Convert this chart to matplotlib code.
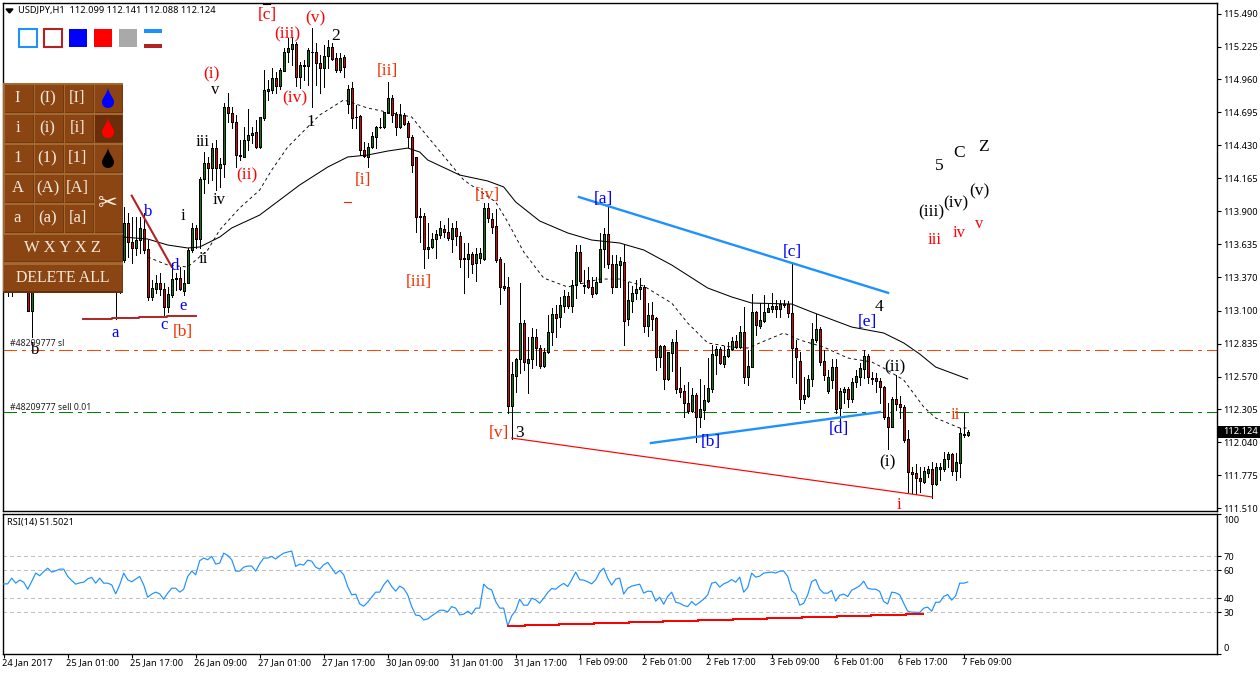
import matplotlib
matplotlib.use("Agg")
import matplotlib.pyplot as plt
from matplotlib.patches import Rectangle, PathPatch
from matplotlib.path import Path
from matplotlib.transforms import ScaledTranslation

# candles, one per H1 bar; the first 30 sit behind the button panel so they are rough
opens = [113.60,113.48,113.42,113.56,113.40,113.50,113.38,113.10,113.55,113.75,
	113.68,113.85,113.95,113.80,113.88,113.96,113.90,113.70,113.58,113.48,
	113.60,113.66,113.78,113.66,113.50,113.70,113.52,113.50,113.36,113.30,
	113.507,113.802,113.655,113.601,113.668,113.754,113.593,113.207,113.271,113.325,
	113.271,113.132,113.226,113.352,113.360,113.261,113.325,113.588,113.762,113.674,
	114.156,114.285,114.245,114.406,114.245,114.280,114.735,114.692,114.617,114.349,
	114.339,114.473,114.513,114.534,114.419,114.647,114.870,114.875,114.969,114.907,
	115.030,115.178,115.205,115.245,114.977,115.068,115.068,115.183,115.178,115.089,
	115.055,115.148,115.218,115.130,115.036,115.138,114.762,114.888,114.660,114.666,
	114.392,114.339,114.414,114.494,114.575,114.575,114.687,114.808,114.679,114.580,
	114.674,114.612,114.494,114.333,113.861,113.861,113.593,113.609,113.674,113.709,
	113.754,113.735,113.674,113.762,113.700,113.521,113.518,113.556,113.481,113.521,
	113.518,113.923,113.837,113.781,113.513,113.298,113.287,112.333,112.574,112.708,
	112.998,112.681,112.708,112.885,112.797,112.655,112.770,112.931,113.073,113.046,
	113.137,113.218,113.137,113.304,113.569,113.306,113.346,113.293,113.239,113.333,
	113.593,113.717,113.473,113.293,113.467,113.491,113.030,113.180,113.239,113.271,
	113.293,112.979,113.065,113.041,112.724,112.815,112.547,112.762,112.845,112.475,
	112.456,112.354,112.295,112.421,112.247,112.301,112.376,112.472,112.746,112.789,
	112.671,112.735,112.789,112.858,112.805,112.925,112.563,112.649,113.086,112.976,
	113.019,113.086,113.113,113.137,113.113,113.153,113.153,113.078,112.802,112.695,
	112.391,112.416,112.547,112.864,112.949,112.697,112.456,112.542,112.644,112.314,
	112.448,112.467,112.386,112.528,112.569,112.628,112.735,112.558,112.555,112.536,
	112.488,112.241,112.166,112.386,112.349,112.322,112.064,111.804,111.791,111.756,
	111.724,111.796,111.823,111.705,111.823,111.823,111.904,111.946,111.812,111.871,
	112.097,112.099]
highs = [113.72,113.60,113.66,113.68,113.58,113.60,113.45,113.60,113.85,113.90,
	113.95,114.05,114.02,113.98,114.05,114.08,113.95,113.80,113.70,113.68,
	113.75,113.85,113.90,113.75,113.78,113.80,113.62,113.60,113.50,113.60,
	113.936,113.883,113.856,113.856,113.856,113.883,113.668,113.346,113.387,113.400,
	113.320,113.293,113.480,113.400,113.454,113.427,113.601,113.802,113.789,114.178,
	114.379,114.339,114.446,114.473,114.325,114.768,114.853,114.741,114.674,114.473,
	114.580,114.719,114.580,114.634,114.660,115.036,114.955,115.049,115.022,115.049,
	115.210,115.291,115.304,115.264,115.103,115.116,115.210,115.371,115.250,115.157,
	115.237,115.277,115.250,115.170,115.170,115.157,114.915,114.942,114.754,114.674,
	114.459,114.446,114.540,114.585,114.647,114.701,114.942,114.835,114.701,114.762,
	114.693,114.628,114.513,114.339,113.923,113.883,113.802,113.722,113.749,113.824,
	113.789,113.843,113.802,113.824,113.735,113.641,113.641,113.574,113.601,113.601,
	113.963,113.963,113.883,113.915,113.534,113.481,113.368,112.689,112.716,113.325,
	113.025,112.891,112.958,112.950,112.824,112.797,113.065,113.119,113.145,113.212,
	113.266,113.253,113.346,113.628,113.628,113.427,113.454,113.373,113.373,113.727,
	113.762,113.936,113.548,113.548,113.534,113.633,113.333,113.298,113.346,113.360,
	113.306,113.164,113.172,113.052,112.824,112.824,112.770,112.869,112.944,112.649,
	112.502,112.529,112.475,112.435,112.547,112.502,112.716,112.824,112.815,112.810,
	112.818,112.850,112.891,112.904,112.976,113.132,112.783,113.234,113.097,113.159,
	113.226,113.159,113.245,113.186,113.186,113.186,113.180,113.480,112.864,112.770,
	112.569,112.582,112.998,113.073,112.971,112.783,112.622,112.708,112.708,112.475,
	112.488,112.488,112.555,112.622,112.676,112.783,112.751,112.609,112.601,112.555,
	112.493,112.354,112.408,112.582,112.413,112.341,112.139,111.839,111.863,111.844,
	111.844,111.850,111.879,111.871,111.871,111.965,111.965,111.952,111.952,112.153,
	112.279,112.141]
lows = [113.38,113.22,113.22,113.32,113.30,113.30,113.10,112.89,113.45,113.58,
	113.60,113.72,113.70,113.68,113.78,113.80,113.62,113.50,113.42,113.40,
	113.50,113.55,113.58,113.40,113.44,113.45,113.40,113.28,113.03,113.24,
	113.494,113.534,113.480,113.547,113.561,113.561,113.185,113.185,113.239,113.226,
	113.065,113.092,113.212,113.266,113.266,113.226,113.320,113.574,113.601,113.601,
	114.044,114.124,114.151,114.070,114.097,114.178,114.620,114.567,114.258,114.312,
	114.339,114.392,114.446,114.406,114.406,114.634,114.794,114.848,114.848,114.880,
	115.030,115.103,115.076,114.907,114.888,114.955,114.915,114.735,114.915,114.853,
	114.896,115.049,115.116,115.022,115.022,114.977,114.687,114.567,114.567,114.352,
	114.339,114.258,114.406,114.406,114.567,114.567,114.687,114.620,114.513,114.567,
	114.593,114.419,114.218,113.730,113.655,113.440,113.521,113.601,113.521,113.682,
	113.690,113.668,113.574,113.628,113.454,113.245,113.373,113.406,113.341,113.481,
	113.507,113.816,113.722,113.494,113.153,113.266,112.279,112.065,112.448,112.601,
	112.622,112.435,112.636,112.663,112.636,112.644,112.757,112.824,112.891,112.971,
	113.092,113.119,113.092,113.199,113.325,113.239,113.279,113.212,113.234,113.333,
	113.448,113.440,113.245,113.293,113.293,112.824,112.984,113.092,113.191,113.191,
	112.931,112.896,112.944,112.622,112.649,112.467,112.542,112.617,112.435,112.408,
	112.242,112.274,112.287,112.046,112.167,112.226,112.368,112.448,112.590,112.671,
	112.649,112.730,112.783,112.797,112.797,112.515,112.502,112.644,112.904,112.958,
	113.011,113.086,113.092,113.046,113.051,113.132,113.051,112.569,112.515,112.306,
	112.354,112.408,112.493,112.850,112.662,112.542,112.434,112.475,112.274,112.220,
	112.354,112.327,112.367,112.483,112.502,112.555,112.520,112.510,112.448,112.354,
	112.225,111.984,112.161,112.300,112.233,112.046,111.643,111.630,111.625,111.643,
	111.716,111.764,111.590,111.697,111.737,111.812,111.844,111.777,111.737,111.764,
	112.080,112.088]
closes = [113.48,113.42,113.56,113.40,113.50,113.38,113.10,113.55,113.75,113.68,
	113.85,113.95,113.80,113.88,113.96,113.90,113.70,113.58,113.48,113.60,
	113.66,113.78,113.66,113.50,113.70,113.52,113.50,113.36,113.30,113.50,
	113.802,113.655,113.601,113.668,113.762,113.588,113.207,113.279,113.320,113.271,
	113.132,113.234,113.352,113.360,113.271,113.325,113.588,113.762,113.674,114.156,
	114.285,114.245,114.406,114.245,114.280,114.735,114.687,114.617,114.349,114.344,
	114.473,114.513,114.526,114.419,114.655,114.875,114.880,114.969,114.907,115.036,
	115.178,115.210,115.245,114.977,115.076,115.076,115.197,115.178,115.089,115.049,
	115.148,115.218,115.122,115.036,115.130,115.063,114.880,114.647,114.655,114.392,
	114.344,114.419,114.505,114.580,114.580,114.695,114.808,114.674,114.580,114.674,
	114.601,114.494,114.272,113.856,113.856,113.593,113.609,113.674,113.717,113.762,
	113.735,113.682,113.762,113.700,113.513,113.513,113.556,113.475,113.556,113.561,
	113.923,113.843,113.776,113.507,113.293,113.279,112.333,112.590,112.708,112.998,
	112.689,112.708,112.885,112.797,112.655,112.770,112.931,113.073,113.041,113.145,
	113.218,113.137,113.304,113.569,113.341,113.301,113.287,113.234,113.333,113.593,
	113.717,113.473,113.293,113.473,113.499,113.019,113.186,113.245,113.271,113.293,
	112.979,113.065,113.035,112.724,112.815,112.547,112.770,112.845,112.472,112.445,
	112.354,112.295,112.421,112.247,112.306,112.381,112.478,112.751,112.789,112.676,
	112.735,112.789,112.858,112.805,112.925,112.563,112.655,113.086,112.984,113.025,
	113.086,113.119,113.137,113.113,113.153,113.148,113.078,112.802,112.729,112.386,
	112.421,112.550,112.869,112.949,112.689,112.582,112.569,112.644,112.306,112.453,
	112.467,112.386,112.528,112.574,112.636,112.735,112.563,112.553,112.536,112.488,
	112.241,112.166,112.386,112.349,112.322,112.059,111.804,111.786,111.751,111.729,
	111.810,111.826,111.702,111.839,111.839,111.904,111.946,111.812,111.882,112.113,
	112.105,112.124]
rsi = [50.2,50.2,54.3,50.7,52.9,51.4,46.4,51.9,57.9,56.0,59.0,61.4,58.6,59.5,60.7,60.7,55.5,52.6,50.0,50.9,
	51.4,53.8,54.8,50.7,54.3,50.7,50.7,49.5,43.1,49.5,
	57.9,53.1,51.7,53.6,55.5,49.5,40.7,42.9,44.3,43.1,
	39.3,43.6,47.1,47.1,44.3,46.4,55.5,59.3,56.7,66.7,
	68.6,67.4,69.8,64.3,65.0,72.1,70.5,67.4,59.3,59.3,
	62.1,62.9,62.9,59.3,64.5,68.6,68.6,69.8,67.9,70.2,
	72.1,72.9,73.6,62.6,64.3,63.6,67.1,66.4,62.1,60.7,
	63.8,65.5,61.4,57.4,59.8,56.7,48.3,42.4,42.9,35.9,
	34.3,37.1,40.7,44.3,44.3,49.5,52.9,48.3,45.0,48.6,
	46.9,42.4,34.0,27.9,27.6,24.5,25.2,27.4,29.3,31.4,
	31.4,30.2,34.0,32.9,28.1,28.6,30.7,28.6,32.9,32.9,
	50.0,47.1,45.9,37.6,32.9,32.9,20.2,27.4,31.2,39.3,
	35.0,35.0,40.0,38.8,36.4,40.0,44.0,46.9,46.4,48.8,
	50.5,48.3,53.1,58.6,53.1,52.9,51.7,50.2,53.1,58.6,
	61.4,54.3,49.3,53.6,54.3,42.9,47.1,48.6,49.3,50.0,
	43.6,45.0,44.8,37.9,40.7,35.7,41.2,44.3,37.1,36.4,
	34.8,34.0,37.6,35.0,37.1,39.3,42.4,50.7,51.4,47.9,
	50.2,51.4,53.3,51.4,55.0,44.3,47.6,57.9,55.0,55.7,
	57.9,58.3,58.6,57.9,59.3,59.3,55.5,45.5,42.9,35.0,
	36.4,42.4,51.9,53.3,46.4,43.6,43.6,45.5,37.9,42.1,
	42.9,41.2,45.7,47.1,48.8,52.1,47.1,46.4,46.4,44.8,
	37.6,35.9,44.3,43.8,42.4,36.4,30.7,30.0,30.0,29.8,
	32.9,33.6,30.7,37.1,37.1,41.2,42.6,38.6,41.7,50.7,
	50.7,51.5]

# moving averages, read at the bends of each line
ma_slow_bars = [30,36,41,46,49,54,57,64,69,74,81,86,91,96,101,104,106,114,121,125,128,134,141,147,154,160,167,176,182,187,197,202,212,220,225,229,233,241]
ma_slow = [113.692,113.676,113.628,113.604,113.612,113.692,113.765,113.869,113.990,114.111,114.255,114.336,114.352,114.384,114.408,114.376,114.312,114.191,114.143,114.095,113.974,113.821,113.725,113.668,113.644,113.588,113.467,113.282,113.210,113.161,113.153,113.089,112.968,112.920,112.840,112.751,112.646,112.550]
ma_fast_bars = [36,41,46,51,54,59,64,67,71,74,79,85,91,97,102,104,115,123,126,130,135,141,149,154,160,167,171,176,182,186,189,195,199,205,211,217,220,225,230,233,239,241]
ma_fast = [113.531,113.467,113.451,113.588,113.749,113.926,114.070,114.231,114.416,114.513,114.674,114.795,114.730,114.690,114.658,114.577,114.151,113.974,113.813,113.572,113.362,113.290,113.354,113.354,113.298,113.161,113.000,112.840,112.807,112.799,112.840,112.920,112.864,112.807,112.719,112.687,112.638,112.542,112.325,112.236,112.156,112.156]

# drawn lines on the price chart
blue_upper_bars = [143.8,221.1]
blue_upper = [114.014,113.243]
blue_lower_bars = [161.8,219.1]
blue_lower = [112.035,112.284]
red_lower_bars = [127,232.1]
red_lower = [112.075,111.601]
brown_diag_bars = [32,42]
brown_diag = [114.025,113.453]
brown_base_bars = [19.8,27.1,33.8,40.8,48.1]
brown_base = [113.033,113.043,113.051,113.059,113.059]
sl_level = 112.781
sell_level = 112.282
last_price = 112.124
rsi_line_bars = [126,130.3,138.8,147.6,156.3,164.8,173.6,182.3,190.8,199.6,208.3,216.8,225.6,229.7]
rsi_line = [20.5,21.2,21.9,22.6,23.3,24.0,24.8,25.5,26.2,26.9,27.6,28.3,29.0,29.0]

price_ticks = [115.490,115.225,114.960,114.695,114.430,114.165,113.900,113.635,113.370,113.100,112.835,112.570,112.305,112.040,111.775,111.510]
rsi_ticks = [100,70,60,40,30,0]
rsi_grid = [70,60,40,30]
date_labels = ["24 Jan 2017","25 Jan 01:00","25 Jan 17:00","26 Jan 09:00","27 Jan 01:00","27 Jan 17:00","30 Jan 09:00","31 Jan 01:00",
	"31 Jan 17:00","1 Feb 09:00","2 Feb 01:00","2 Feb 17:00","3 Feb 09:00","6 Feb 01:00","6 Feb 17:00","7 Feb 09:00"]

W, H = 1260, 675
UI_FONT = "Noto Sans"
UI_SIZE = 6.7
SERIF = "Liberation Serif"
RED = "#FF0000"
ORANGE = "#F53000"
BLUE = "#0000FF"
BLACK = "#000000"
DODGER = "#1E90FF"
FIREBRICK = "#B22222"

# wave labels, placed on the window: text, x, y, colour, size
wave_labels = [
	("[c]",267,15,RED,12.5),("(iii)",287,34,RED,12.5),("(v)",315,18,RED,12.5),("(i)",211,74,RED,12.5),
	("(ii)",247,175,RED,12.5),("(iv)",295,98,RED,12.5),("[ii]",387,71,ORANGE,12.5),("[i]",363,180,ORANGE,12.5),
	("[iii]",419,282,ORANGE,12.5),("[iv]",487,195,ORANGE,12.5),("[v]",499,433,ORANGE,12.5),("[b]",183,332,ORANGE,12.5),
	("iii",935,240,RED,12),("iv",959,233,RED,12),("v",979,224,RED,12),("ii",955,415,ORANGE,12),("i",899,505,RED,12),
	("v",215,90,BLACK,12),("iii",203,142,BLACK,12),("iv",219,200,BLACK,12),("i",183,216,BLACK,12),("ii",203,259,BLACK,12),
	("1",311,122,BLACK,12),("2",336,36,BLACK,12.5),("3",519,433,BLACK,12.5),("4",879,307,BLACK,12.5),("5",939,166,BLACK,12.5),
	("C",959,153,BLACK,12.5),("Z",983,147,BLACK,12.5),("(iii)",931,212,BLACK,12.5),("(iv)",956,203,BLACK,12.5),
	("(v)",979,191,BLACK,12.5),("(ii)",895,367,BLACK,12.5),("(i)",887,462,BLACK,12.5),("b",35,350,BLACK,12),
	("b",148,212,BLUE,12),("d",175,266,BLUE,12),("e",183,306,BLUE,12),("c",164,325,BLUE,12),("a",115,333,BLUE,12),
	("[a]",603,199,BLUE,12.5),("[c]",792,252,BLUE,12.5),("[e]",867,322,BLUE,12.5),("[d]",839,429,BLUE,12.5),("[b]",711,442,BLUE,12.5),
]
button_text = [["I","(I)","[I]"],["i","(i)","[i]"],["1","(1)","[1]"],["A","(A)","[A]"],["a","(a)","[a]"]]
drop_colors = ["#0000FF","#FF0000","#000000"]


def axes_px(fig, left, top, right, bottom):
	return fig.add_axes([left / W, 1 - bottom / H, (right - left) / W, (bottom - top) / H])


def nudge(label, fig, dx, dy):
	# move a tick label by some pixels, dy up
	label.set_transform(label.get_transform() + ScaledTranslation(dx / 100, dy / 100, fig.dpi_scale_trans))


def drop(ax, cx, cy, color):
	verts = [(cx, cy - 11), (cx - 1, cy - 5), (cx - 6, cy - 1), (cx - 6, cy + 3),
		(cx - 6, cy + 11), (cx + 6, cy + 11), (cx + 6, cy + 3),
		(cx + 6, cy - 1), (cx + 1, cy - 5), (cx, cy - 11)]
	codes = [Path.MOVETO] + [Path.CURVE4] * 9
	ax.add_patch(PathPatch(Path(verts, codes), facecolor=color, edgecolor="none", zorder=5))


def button(ax, x0, y0, x1, y1, face="#8B4513"):
	ax.add_patch(Rectangle((x0, y0), x1 - x0, y1 - y0, facecolor="#6E3A12", edgecolor="none", zorder=3))
	ax.add_patch(Rectangle((x0, y0), x1 - x0 - 1, y1 - y0 - 1, facecolor=face, edgecolor="none", zorder=4))


def draw_panel(ov):
	ov.add_patch(Rectangle((3, 83), 120, 210, facecolor="#A5692F", edgecolor="none", zorder=2))
	xs = [4, 34, 64, 94]
	ys = [84, 114, 144, 174, 204]
	for r, y in enumerate(ys):
		for c, x in enumerate(xs[:3]):
			button(ov, x + 1, y + 1, x + 30, y + 29)
			ov.text(x + 13.5, y + 14, button_text[r][c], color="#F5EBDC", family=SERIF, fontsize=12,
				ha="center", va="center", zorder=6)
	for r, y in enumerate(ys[:3]):
		button(ov, 95, y + 1, 123, y + 29, face="#6B2E0A" if r == 1 else "#8B4513")
		drop(ov, 108, y + 15, drop_colors[r])
	button(ov, 95, 175, 123, 233)
	ov.text(108, 203, "\u2702", color="#F5EBDC", family="DejaVu Sans", fontsize=17, ha="center", va="center", zorder=6)
	button(ov, 4, 235, 123, 262)
	ov.text(63, 248, "W X Y X Z", color="#F5EBDC", family=SERIF, fontsize=12, ha="center", va="center", zorder=6)
	button(ov, 4, 265, 123, 292)
	ov.text(63, 278, "DELETE ALL", color="#F5EBDC", family=SERIF, fontsize=11.4, ha="center", va="center", zorder=6)
	ov.add_patch(Rectangle((3, 291), 120, 2, facecolor="#6B2E0A", edgecolor="none", zorder=5))


def draw_swatches(ov):
	ov.add_patch(Rectangle((19, 29), 18, 18, facecolor="white", edgecolor=DODGER, linewidth=1.5))
	ov.add_patch(Rectangle((44, 29), 18, 18, facecolor="white", edgecolor=FIREBRICK, linewidth=1.5))
	ov.add_patch(Rectangle((69, 29), 18, 18, facecolor="#0000FF", edgecolor="none"))
	ov.add_patch(Rectangle((94, 29), 18, 18, facecolor="#FF0000", edgecolor="none"))
	ov.add_patch(Rectangle((119, 29), 18, 18, facecolor="#A9A9A9", edgecolor="none"))
	ov.add_patch(Rectangle((144, 29), 18, 4, facecolor=DODGER, edgecolor="none"))
	ov.add_patch(Rectangle((144, 44), 18, 4, facecolor=FIREBRICK, edgecolor="none"))


def main():
	plt.rcParams["lines.scale_dashes"] = False
	plt.rcParams["font.family"] = UI_FONT
	fig = plt.figure(figsize=(W / 100, H / 100), dpi=100, facecolor="white")
	ax = axes_px(fig, 2.7, 2.5, 1217.3, 511)
	ax2 = axes_px(fig, 2.7, 514, 1217.3, 654.3)
	for a in (ax, ax2):
		a.set_xlim(-0.25, 303.4)
		a.yaxis.tick_right()
		a.tick_params(axis="y", length=3, width=0.8, pad=1.5, labelsize=UI_SIZE, direction="out")
		for s in a.spines.values():
			s.set_linewidth(1.0)
	ax.set_ylim(111.488, 115.579)
	ax2.set_ylim(0, 100)

	# levels first, candles over them
	ax.axhline(sl_level, color="#FF4500", lw=1, linestyle=(0, (9.5, 3.6, 2.2, 3.6)), antialiased=False, zorder=1)
	ax.axhline(sell_level, color="#008000", lw=1, linestyle=(0, (9.5, 3.6, 2.2, 3.6)), antialiased=False, zorder=1)

	bars = list(range(len(opens)))
	ax.vlines(bars, lows, highs, color="black", lw=0.72, antialiased=False, zorder=2)
	colors = ["#0A7A0A" if c >= o else "#E00000" for o, c in zip(opens, closes)]
	bottoms = [min(o, c) for o, c in zip(opens, closes)]
	heights = [abs(c - o) for o, c in zip(opens, closes)]
	ax.bar(bars, heights, bottom=bottoms, width=0.5, color=colors, edgecolor="black", linewidth=0.72, antialiased=False, zorder=3)

	ax.plot(ma_slow_bars, ma_slow, color="black", lw=0.75, zorder=4)
	ax.plot(ma_fast_bars, ma_fast, color="black", lw=0.65, linestyle=(0, (2.2, 2.2)), zorder=4)

	ax.plot(blue_upper_bars, blue_upper, color=DODGER, lw=1.7, zorder=5)
	ax.plot(blue_lower_bars, blue_lower, color=DODGER, lw=1.7, zorder=5)
	ax.plot(red_lower_bars, red_lower, color="#FF0000", lw=0.85, zorder=5)
	ax.plot(brown_diag_bars, brown_diag, color=FIREBRICK, lw=1.5, zorder=5)
	ax.plot(brown_base_bars, brown_base, color=FIREBRICK, lw=1.4, drawstyle="steps-post", zorder=5)

	ax.set_xticks([])
	ax.set_yticks(price_ticks)
	ax.set_yticklabels([f"{p:.3f}" for p in price_ticks])

	# indicator window
	for level in rsi_grid:
		ax2.axhline(level, color="#C0C0C0", lw=0.9, linestyle=(0, (2.6, 2.2)), antialiased=False, zorder=1)
	ax2.plot(bars, rsi, color=DODGER, lw=0.85, zorder=3)
	ax2.plot(rsi_line_bars, rsi_line, color="#FF0000", lw=1.2, drawstyle="steps-post", antialiased=False, zorder=4)
	ax2.set_yticks(rsi_ticks)
	ax2.set_yticklabels([str(t) for t in rsi_ticks])
	labels = ax2.get_yticklabels()
	labels[0].set_va("top")
	labels[-1].set_va("bottom")
	nudge(labels[0], fig, 0, -2)
	nudge(labels[-1], fig, 0, 1)
	ax2.set_xticks(list(range(0, len(opens), 16)))
	ax2.set_xticklabels(date_labels, ha="left")
	ax2.tick_params(axis="x", length=3, width=0.8, pad=0, labelsize=UI_SIZE, direction="out")
	for label in ax2.get_xticklabels():
		nudge(label, fig, -2, 0)

	# window overlay in pixels: panel, swatches, captions, wave labels
	ov = fig.add_axes([0, 0, 1, 1], zorder=10)
	ov.set_xlim(0, W)
	ov.set_ylim(H, 0)
	ov.axis("off")
	ov.patch.set_alpha(0)
	draw_panel(ov)
	draw_swatches(ov)
	ov.fill([6, 13, 9.5], [9, 9, 13], color="black", zorder=6)
	ov.text(18, 10.5, "USDJPY,H1  112.099 112.141 112.088 112.124", fontsize=UI_SIZE, va="center", ha="left", color="black")
	ov.text(7, 522, "RSI(14) 51.5021", fontsize=6.6, va="center", ha="left", color="black")
	ov.text(10, 344, "#48209777 sl", fontsize=6.3, va="center", ha="left", color="#202020")
	ov.text(10, 407, "#48209777 sell 0.01", fontsize=6.3, va="center", ha="left", color="#202020")
	ov.add_patch(Rectangle((1218, 426), 42, 12, facecolor="black", edgecolor="none", zorder=6))
	ov.text(1223, 432, f"{last_price:.3f}", color="white", fontsize=UI_SIZE, va="center", ha="left", zorder=7)
	ov.plot([263, 270], [3.5, 3.5], color="black", lw=0.8)
	ov.plot([344, 351], [202, 202], color="#FF2000", lw=0.8)
	for s, x, y, color, size in wave_labels:
		ov.text(x, y, s, color=color, family=SERIF, fontsize=size, ha="center", va="center", zorder=7)

	fig.savefig("out.png", dpi=100)


if __name__ == "__main__":
	main()
